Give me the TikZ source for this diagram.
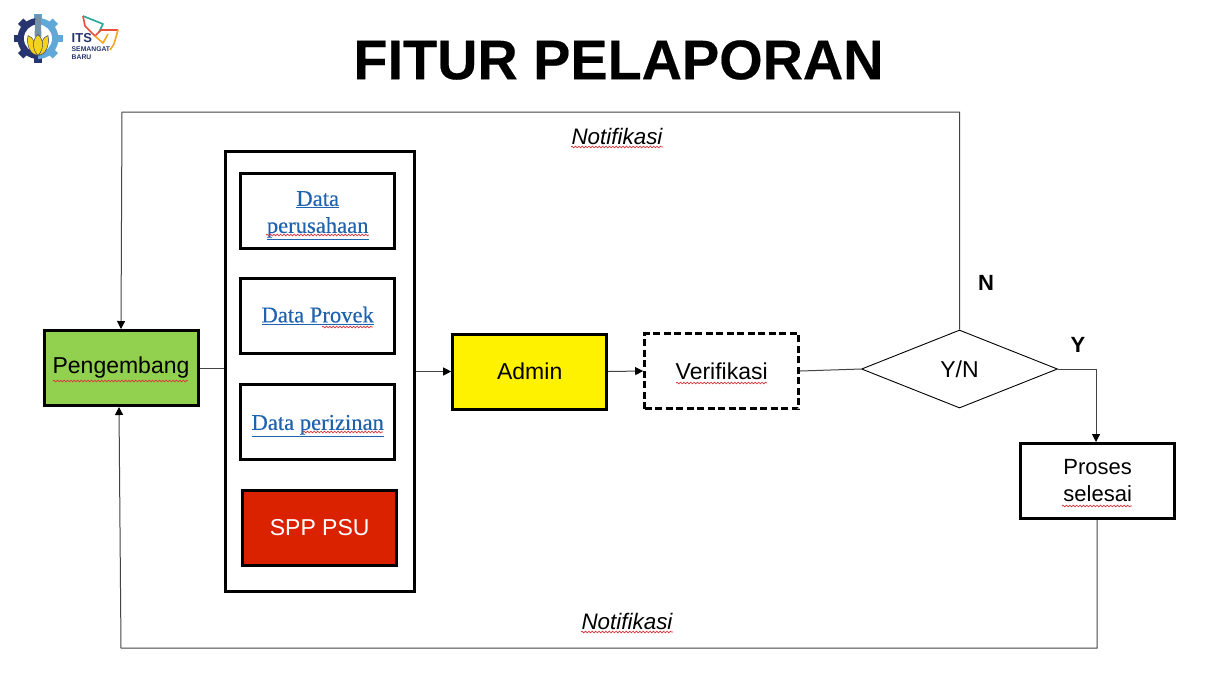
\documentclass[tikz,border=0pt]{standalone}
\usepackage{fontspec}
\setmainfont{Liberation Sans}
\newfontfamily\dataserif[FakeBold=0.25]{Liberation Serif}
\newfontfamily\titlefont[FakeBold=0.3]{Liberation Sans Bold}
\usetikzlibrary{arrows.meta,decorations.pathmorphing,shapes.geometric}
\definecolor{linkblue}{HTML}{1F62AE}
\definecolor{greenfill}{HTML}{92D050}
\definecolor{redfill}{HTML}{DA2200}
\definecolor{wavyred}{HTML}{D8343A}
\definecolor{linegray}{HTML}{444444}
\definecolor{navy}{HTML}{26346F}
\definecolor{skyb}{HTML}{5FA8D8}
\definecolor{lotus}{HTML}{F6D21E}
\definecolor{birdteal}{HTML}{2AA6A0}
\definecolor{birdorange}{HTML}{F5A623}
\definecolor{birdred}{HTML}{E8503A}
\newcommand{\lowered}[2]{\strut\smash{\raisebox{-#1}{\underline{#2}}}}
\tikzset{
 x=1pt,y=-1pt,
 boxbase/.style={draw=black,line width=3pt,minimum width=154pt,minimum height=75pt,inner sep=0pt,align=center,font=\fontsize{23}{28}\selectfont},
 databox/.style={boxbase,font=\dataserif\fontsize{22.6}{27}\selectfont,text=linkblue},
 conn/.style={draw=linegray,line width=1pt},
 arr/.style={conn,-{Triangle[length=8pt,width=8pt,color=black,fill=black]}},
 lab/.style={font=\bfseries\fontsize{22}{26}\selectfont,inner sep=0pt},
 notif/.style={font=\itshape\fontsize{22.4}{26}\selectfont,inner sep=0pt},
 wavy/.style={draw=wavyred,line width=0.7pt,decorate,decoration={snake,amplitude=0.8pt,segment length=3.4pt}},
 petal/.style={fill=lotus,draw=navy!80!black,line width=0.4pt},
}
\begin{document}
\begin{tikzpicture}
\useasboundingbox (0,0) rectangle (1214,681);
\fill[white] (0,0) rectangle (1214,681);
% logo: gear
\begin{scope}[shift={(38,38.5)}]
  \foreach \a in {135,180,225,90}{\draw[navy,line width=7.5pt] (\a:17) -- (\a:24.5);}
  \foreach \a in {45,0,-45,-90}{\draw[skyb,line width=7.5pt] (\a:17) -- (\a:24.5);}
  \begin{scope}\clip (-30,-30) rectangle (0,30); \fill[navy] (0,0) circle[radius=20.5]; \end{scope}
  \begin{scope}\clip (0,-30) rectangle (30,30); \fill[skyb] (0,0) circle[radius=20.5]; \end{scope}
  \fill[white] (0,0) circle[radius=14];
  \fill[gray!55!skyb] (-2.5,-24) -- (2.5,-24) -- (3.5,-2) -- (-3.5,-2) -- cycle;
  \draw[petal] (-10,-3) .. controls (-5,-2) and (-2,6) .. (-1,17) .. controls (-7,16) and (-12,8) .. (-10,-3);
  \draw[petal] (10,-3) .. controls (5,-2) and (2,6) .. (1,17) .. controls (7,16) and (12,8) .. (10,-3);
  \draw[petal] (0,-4) .. controls (6,1) and (6,11) .. (0,17) .. controls (-6,11) and (-6,1) .. (0,-4);
\end{scope}
% logo: bird
\draw[birdteal,line width=1.6pt,line join=round] (83,16) -- (103,24) -- (99,32);
\draw[birdred,line width=1.6pt,line join=round] (83,16) -- (85,26) -- (95,36) -- (101,30) -- (118,30);
\draw[birdorange,line width=1.6pt,line join=round] (118,30) -- (114,44) -- (110,50);
\draw[birdorange,line width=1.6pt,line join=round] (95,36) -- (103,43) -- (108,34);
\node[anchor=west,inner sep=0pt,text=navy] (logoa) at (71.5,38) {\bfseries\fontsize{13}{13}\selectfont ITS};
\node[anchor=west,inner sep=0pt,text=navy] (logob) at (71.5,49.5) {\bfseries\fontsize{6.8}{8}\selectfont SEMANGAT};
\node[anchor=west,inner sep=0pt,text=navy] (logoc) at (71.5,57.5) {\bfseries\fontsize{6.8}{8}\selectfont BARU};
% title
\node[inner sep=0pt] (title) at (618.5,60) {\titlefont\fontsize{55.8}{60}\selectfont FITUR PELAPORAN};
% boxes
\node[draw=black,line width=3pt,minimum width=189pt,minimum height=440pt,inner sep=0pt] (outer) at (320,371.5) {};
\node[boxbase,fill=greenfill] (peng) at (121,368) {Pengembang};
\node[databox] (d1) at (317.7,211) {\lowered{3pt}{Data}\\\lowered{3pt}{perusahaan}};
\node[databox] (d2) at (317.7,316) {\lowered{1pt}{Data Provek}};
\node[databox] (d3) at (317.7,421.5) {\lowered{3pt}{Data perizinan}};
\node[boxbase,fill=redfill,text=white] (spp) at (319.7,527.5) {SPP PSU};
\node[boxbase,fill=yellow] (admin) at (529.7,371.5) {Admin};
\node[boxbase,dashed,dash pattern=on 7pt off 3.5pt] (ver) at (721.7,371) {Verifikasi};
\node[diamond,draw=black,line width=0.9pt,minimum width=196pt,minimum height=78pt,aspect=2.5,inner sep=0pt,font=\fontsize{23}{28}\selectfont] (dec) at (959.5,369) {Y/N};
\node[boxbase,align=center,font=\fontsize{22}{27}\selectfont] (proses) at (1097.7,481) {Proses\\selesai};
% labels
\node[notif] (n1) at (617,136) {Notifikasi};
\node[notif] (n2) at (627,621) {Notifikasi};
\node[lab] (lN) at (986,283) {N};
\node[lab] (lY) at (1078,345) {Y};
% connector corners
\coordinate (c1) at (959.5,112);
\coordinate (c2) at (122,112);
\coordinate (c3) at (1096,369);
\coordinate (c4) at (1097,648);
\coordinate (c5) at (121,648);
% connectors
\draw[conn] (peng.east) -- (outer.west |- peng.east);
\draw[arr] (outer.east |- admin.west) -- (admin.west);
\draw[arr] (admin.east) -- (ver.west);
\draw[conn] (ver.east) -- (dec.west);
\draw[arr] (dec.north) -- (c1) -- (c2) -- (peng.north);
\draw[arr] (dec.east) -- (c3) -- (proses.north -| c3);
\draw[arr] (proses.south -| c4) -- (c4) -- (c5) -- (peng.south -| 119,0);
% spell-check underlines
\draw[wavy] (53,381) -- (188,381);
\draw[wavy] (266,235) -- (369,235);
\draw[wavy] (322,327) -- (373,327);
\draw[wavy] (303,432) -- (383,432);
\draw[wavy] (571,147) -- (663,147);
\draw[wavy] (581,632) -- (673,632);
\draw[wavy] (676,383) -- (767,383);
\draw[wavy] (1062,506) -- (1132,506);
\end{tikzpicture}
\end{document}
